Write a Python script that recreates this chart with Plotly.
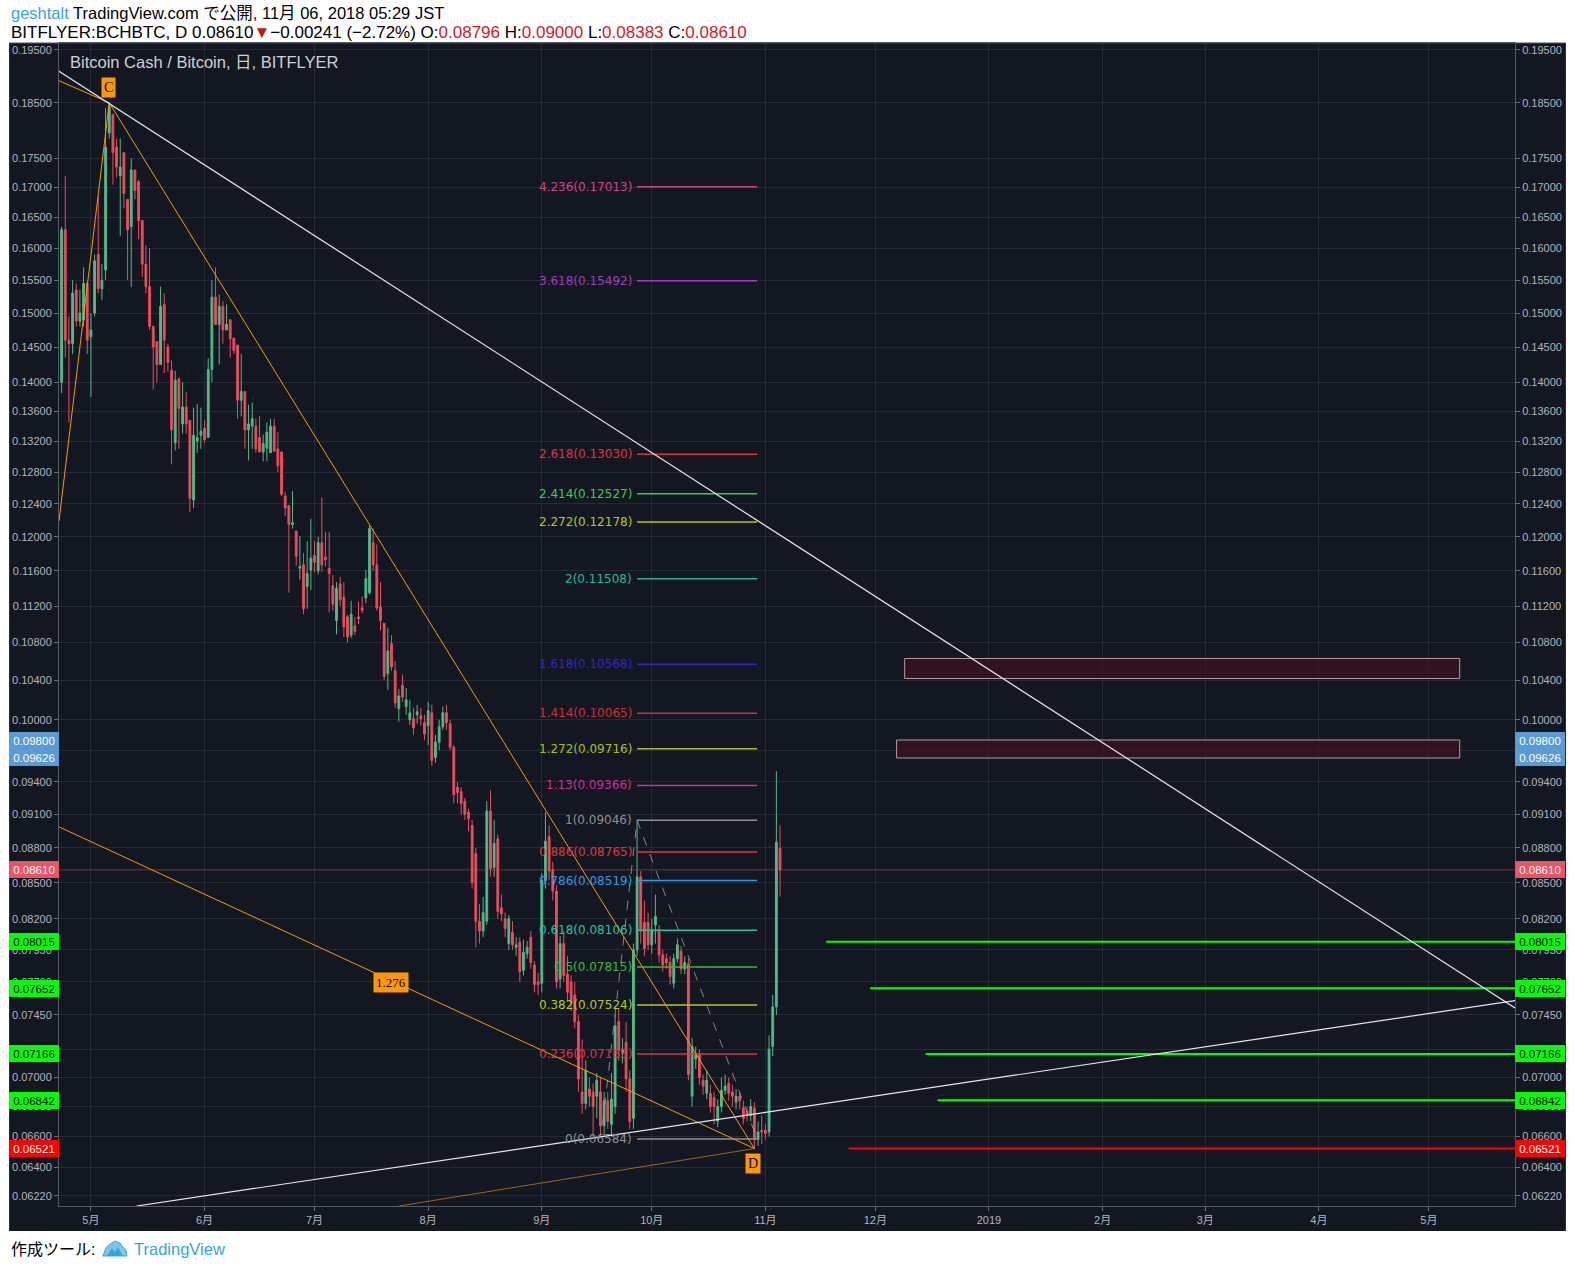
import math
import pandas as pd
import plotly.graph_objects as go

# ---------------- data ----------------
candle_start = "2018-04-23"

opens = [
    0.1400, 0.1630, 0.1460, 0.1455, 0.1535, 0.1488, 0.1490, 0.1545, 0.1465, 0.1500,
    0.1590, 0.1537, 0.1566, 0.1795, 0.1828, 0.1770, 0.1720, 0.1760, 0.1680, 0.1635,
    0.1730, 0.1710, 0.1645, 0.1575, 0.1540, 0.1480, 0.1458, 0.1425, 0.1513, 0.1450,
    0.1417, 0.1318, 0.1405, 0.1343, 0.1366, 0.1348, 0.1245, 0.1320, 0.1328, 0.1337,
    0.1325, 0.1418, 0.1524, 0.1483, 0.1510, 0.1475, 0.1490, 0.1463, 0.1453, 0.1375,
    0.1387, 0.1335, 0.1340, 0.1340, 0.1325, 0.1306, 0.1311, 0.1305, 0.1340, 0.1310,
    0.1306, 0.1250, 0.1238, 0.1215, 0.1207, 0.1163, 0.1167, 0.1142, 0.1161, 0.1178,
    0.1160, 0.1193, 0.1176, 0.1163, 0.1143, 0.1104, 0.1145, 0.1130, 0.1108, 0.1088,
    0.1098, 0.1108, 0.1118, 0.1129, 0.1135, 0.1193, 0.1167, 0.1119, 0.1101, 0.1047,
    0.1079, 0.1050, 0.1011, 0.1035, 0.1013, 0.1000, 0.1001, 0.1005, 0.1004, 0.0997,
    0.0994, 0.1007, 0.0963, 0.0978, 0.0993, 0.1007, 0.0996, 0.0973, 0.0935, 0.0931,
    0.0922, 0.0912, 0.0900, 0.0875, 0.0818, 0.0810, 0.0818, 0.0913, 0.0863, 0.0888,
    0.0829, 0.0820, 0.0800, 0.0809, 0.0797, 0.0801, 0.0779, 0.0792, 0.0805, 0.0783,
    0.0770, 0.0769, 0.0852, 0.0890, 0.0861, 0.0843, 0.0772, 0.0800, 0.0776, 0.0770,
    0.0760, 0.0740, 0.0690, 0.0682, 0.0692, 0.0690, 0.0687, 0.0690, 0.0667, 0.0684,
    0.0668, 0.0680, 0.0740, 0.0717, 0.0725, 0.0699, 0.0672, 0.0795, 0.0855, 0.0817,
    0.0817, 0.0799, 0.0815, 0.0811, 0.0791, 0.0788, 0.0785, 0.0769, 0.0788, 0.0794,
    0.0780, 0.0784, 0.0687, 0.0713, 0.0716, 0.0698, 0.0689, 0.0689, 0.0686, 0.0670,
    0.0680, 0.0691, 0.0696, 0.0690, 0.0683, 0.0687, 0.0679, 0.0677, 0.0674, 0.0679,
    0.0658, 0.0664, 0.0664, 0.0663, 0.0722, 0.0751, 0.08796,
]
highs = [
    0.1635, 0.1720, 0.1495, 0.1550, 0.1545, 0.1535, 0.1570, 0.1548, 0.1500, 0.1590,
    0.1685, 0.1575, 0.1840, 0.1850, 0.1830, 0.1785, 0.1785, 0.1760, 0.1680, 0.1750,
    0.1730, 0.1713, 0.1645, 0.1605, 0.1600, 0.1480, 0.1458, 0.1540, 0.1530, 0.1455,
    0.1431, 0.1416, 0.1405, 0.1400, 0.1386, 0.1348, 0.1365, 0.1370, 0.1365, 0.1348,
    0.1434, 0.1550, 0.1570, 0.1528, 0.1518, 0.1513, 0.1490, 0.1463, 0.1453, 0.1440,
    0.1388, 0.1369, 0.1372, 0.1350, 0.1354, 0.1329, 0.1345, 0.1350, 0.1350, 0.1332,
    0.1306, 0.1255, 0.1238, 0.1256, 0.1207, 0.1201, 0.1181, 0.1195, 0.1222, 0.1195,
    0.1200, 0.1248, 0.1206, 0.1206, 0.1155, 0.1147, 0.1153, 0.1147, 0.1110, 0.1126,
    0.1108, 0.1125, 0.1131, 0.1161, 0.1214, 0.1210, 0.1191, 0.1147, 0.1101, 0.1096,
    0.1088, 0.1060, 0.1031, 0.1046, 0.1032, 0.1020, 0.1012, 0.1015, 0.1012, 0.1005,
    0.1018, 0.1015, 0.0985, 0.1000, 0.1013, 0.1015, 0.1000, 0.0975, 0.0940, 0.0935,
    0.0925, 0.0915, 0.0905, 0.0880, 0.0832, 0.0838, 0.0922, 0.0932, 0.0905, 0.0892,
    0.0840, 0.0825, 0.0823, 0.0818, 0.0805, 0.0805, 0.0803, 0.0802, 0.0810, 0.0786,
    0.0777, 0.0858, 0.0912, 0.0900, 0.0868, 0.0848, 0.0806, 0.0810, 0.0790, 0.0775,
    0.0770, 0.0745, 0.0727, 0.0712, 0.0700, 0.0696, 0.0703, 0.0700, 0.0690, 0.0690,
    0.0703, 0.0745, 0.0750, 0.0728, 0.0740, 0.0705, 0.0800, 0.09046, 0.0860, 0.0835,
    0.0825, 0.0820, 0.0840, 0.0815, 0.0795, 0.0792, 0.0790, 0.0792, 0.0804, 0.0798,
    0.0790, 0.0788, 0.0728, 0.0722, 0.0720, 0.0702, 0.0705, 0.0695, 0.0690, 0.0685,
    0.0700, 0.0702, 0.0700, 0.0695, 0.0692, 0.0690, 0.0684, 0.0680, 0.0685, 0.0683,
    0.0670, 0.0674, 0.0668, 0.0730, 0.0760, 0.0950, 0.09000,
]
lows = [
    0.1385, 0.1435, 0.1345, 0.1440, 0.1480, 0.1480, 0.1480, 0.1440, 0.1380, 0.1495,
    0.1530, 0.1520, 0.1550, 0.1785, 0.1705, 0.1717, 0.1620, 0.1665, 0.1550, 0.1540,
    0.1680, 0.1615, 0.1555, 0.1530, 0.1475, 0.1390, 0.1400, 0.1425, 0.1413, 0.1415,
    0.1290, 0.1308, 0.1310, 0.1330, 0.1330, 0.1230, 0.1235, 0.1305, 0.1310, 0.1318,
    0.1325, 0.1400, 0.1483, 0.1425, 0.1455, 0.1475, 0.1435, 0.1440, 0.1350, 0.1353,
    0.1310, 0.1295, 0.1310, 0.1305, 0.1306, 0.1294, 0.1294, 0.1305, 0.1307, 0.1280,
    0.1250, 0.1225, 0.1135, 0.1210, 0.1166, 0.1150, 0.1111, 0.1117, 0.1138, 0.1158,
    0.1156, 0.1159, 0.1165, 0.1113, 0.1115, 0.1089, 0.1120, 0.1086, 0.1080, 0.1085,
    0.1088, 0.1100, 0.1112, 0.1123, 0.1133, 0.1160, 0.1115, 0.1093, 0.1040, 0.1030,
    0.1050, 0.1012, 0.0998, 0.1018, 0.1005, 0.0995, 0.0985, 0.0996, 0.0994, 0.0980,
    0.0975, 0.0955, 0.0958, 0.0970, 0.0990, 0.0990, 0.0970, 0.0920, 0.0920, 0.0910,
    0.0905, 0.0895, 0.0845, 0.0797, 0.0800, 0.0805, 0.0815, 0.0855, 0.0855, 0.0820,
    0.0818, 0.0805, 0.0795, 0.0795, 0.0790, 0.0770, 0.0775, 0.0788, 0.0780, 0.0762,
    0.0760, 0.0762, 0.0845, 0.0852, 0.0835, 0.0765, 0.0765, 0.0770, 0.0755, 0.0748,
    0.0735, 0.0690, 0.0675, 0.0678, 0.0680, 0.0660, 0.0672, 0.0660, 0.0660, 0.0665,
    0.0660, 0.0675, 0.0712, 0.0710, 0.0690, 0.0665, 0.0665, 0.0790, 0.0800, 0.0790,
    0.0795, 0.0792, 0.0800, 0.0785, 0.0778, 0.0780, 0.0768, 0.0765, 0.0785, 0.0776,
    0.0776, 0.0698, 0.0680, 0.0706, 0.0695, 0.0688, 0.0685, 0.0676, 0.0668, 0.0666,
    0.0676, 0.0688, 0.0684, 0.0680, 0.0678, 0.0678, 0.0668, 0.0670, 0.0670, 0.06521,
    0.0654, 0.0655, 0.0658, 0.0660, 0.0715, 0.0745, 0.08383,
]
closes = [
    0.1630, 0.1460, 0.1455, 0.1530, 0.1488, 0.1500, 0.1545, 0.1460, 0.1475, 0.1580,
    0.1537, 0.1550, 0.1770, 0.1843, 0.1760, 0.1735, 0.1735, 0.1690, 0.1630, 0.1730,
    0.1695, 0.1645, 0.1575, 0.1540, 0.1480, 0.1450, 0.1425, 0.1510, 0.1460, 0.1428,
    0.1335, 0.1403, 0.1364, 0.1366, 0.1343, 0.1247, 0.1328, 0.1325, 0.1333, 0.1322,
    0.1418, 0.1524, 0.1483, 0.1510, 0.1475, 0.1483, 0.1462, 0.1445, 0.1375, 0.1387,
    0.1335, 0.1343, 0.1350, 0.1310, 0.1306, 0.1317, 0.1332, 0.1340, 0.1307, 0.1288,
    0.1252, 0.1235, 0.1215, 0.1217, 0.1177, 0.1165, 0.1117, 0.1157, 0.1175, 0.1170,
    0.1193, 0.1167, 0.1173, 0.1157, 0.1122, 0.1140, 0.1127, 0.1097, 0.1086, 0.1111,
    0.1092, 0.1106, 0.1115, 0.1151, 0.1210, 0.1167, 0.1118, 0.1104, 0.1044, 0.1071,
    0.1054, 0.1017, 0.1024, 0.1023, 0.1020, 0.1007, 0.0992, 0.1008, 0.1001, 0.0986,
    0.1009, 0.0960, 0.0978, 0.0993, 0.1007, 0.0997, 0.0973, 0.0928, 0.0930, 0.0920,
    0.0910, 0.0906, 0.0850, 0.0818, 0.0810, 0.0825, 0.0913, 0.0862, 0.0884, 0.0826,
    0.0824, 0.0812, 0.0820, 0.0799, 0.0799, 0.0778, 0.0793, 0.0797, 0.0785, 0.0768,
    0.0768, 0.0852, 0.0886, 0.0860, 0.0843, 0.0770, 0.0800, 0.0775, 0.0762, 0.0754,
    0.0740, 0.0699, 0.0682, 0.0705, 0.0687, 0.0680, 0.0698, 0.0667, 0.0684, 0.0670,
    0.0685, 0.0737, 0.0719, 0.0720, 0.0699, 0.0670, 0.0795, 0.0855, 0.0810, 0.0796,
    0.0799, 0.0811, 0.0822, 0.0791, 0.0783, 0.0785, 0.0774, 0.0788, 0.0799, 0.0780,
    0.0785, 0.0702, 0.0722, 0.0716, 0.0700, 0.0694, 0.0698, 0.0680, 0.0680, 0.0680,
    0.0691, 0.0694, 0.0689, 0.0687, 0.0687, 0.0684, 0.0672, 0.0674, 0.0680, 0.06584,
    0.0663, 0.0663, 0.0662, 0.0720, 0.0751, 0.08851, 0.08610,
]

y_tick_values = [0.195, 0.185, 0.175, 0.170, 0.165, 0.160, 0.155, 0.150, 0.145, 0.140,
                 0.136, 0.132, 0.128, 0.124, 0.120, 0.116, 0.112, 0.108, 0.104, 0.100,
                 0.097, 0.094, 0.091, 0.088, 0.085, 0.082, 0.0795, 0.077, 0.0745, 0.072,
                 0.070, 0.068, 0.066, 0.064, 0.0622]
# ticks whose labels are fully covered by price tags in the reference
covered_ticks = [0.097, 0.072]
month_tick_dates = ["2018-05-01", "2018-06-01", "2018-07-01", "2018-08-01", "2018-09-01",
                    "2018-10-01", "2018-11-01", "2018-12-01", "2019-01-01", "2019-02-01",
                    "2019-03-01", "2019-04-01", "2019-05-01"]
month_tick_labels = ["5月", "6月", "7月", "8月", "9月", "10月", "11月", "12月", "2019",
                     "2月", "3月", "4月", "5月"]
x_view = ["2018-04-22 07:00", "2019-05-24 12:00"]
y_view = [0.061581, 0.19635]

# Fibonacci levels (ratio text, price, colour)
fib_ratios = ["4.236", "3.618", "2.618", "2.414", "2.272", "2", "1.618", "1.414", "1.272",
              "1.13", "1", "0.886", "0.786", "0.618", "0.5", "0.382", "0.236", "0"]
fib_prices = [0.17013, 0.15492, 0.13030, 0.12527, 0.12178, 0.11508, 0.10568, 0.10065, 0.09716,
              0.09366, 0.09046, 0.08765, 0.08519, 0.08106, 0.07815, 0.07524, 0.07165, 0.06584]
fib_colors = ["#d8408a", "#a23ac4", "#e0343c", "#2fd34a", "#b8c61c", "#2bb596", "#2a2ad0",
              "#d32f2f", "#a7bf26", "#d02c9c", "#8e9096", "#e0343c", "#2e9ae6", "#26c3a0",
              "#3cba3c", "#b5c81e", "#e0343c", "#8e9096"]
fib_span = ["2018-09-27 00:00", "2018-10-29 18:00"]
fib_trend_dates = ["2018-09-17 14:00", "2018-09-27 00:00", "2018-10-29 18:00"]
fib_trend_prices = [0.0668, 0.09046, 0.06584]

# Horizontal levels (price, start date, colour)
level_prices = [0.08015, 0.07652, 0.07166, 0.06842, 0.06521]
level_starts = ["2018-11-17 14:00", "2018-11-29 14:00", "2018-12-14 17:00", "2018-12-18 00:00",
                "2018-11-23 17:00"]
level_colors = ["#00ff00", "#00ff00", "#00ff00", "#00ff00", "#ff0000"]

# Zones (rectangles)
zone_x = [["2018-12-09 00:00", "2019-05-09 10:00"], ["2018-12-06 19:00", "2019-05-09 10:00"]]
zone_y = [[0.1042, 0.1063], [0.09626, 0.09800]]

# Trend lines (white) and harmonic legs (orange)
white_lines = [
    (["2018-04-22 07:00", "2019-05-24 12:00"], [0.1909, 0.07502]),
    (["2018-05-13 11:00", "2019-05-24 12:00"], [0.061581, 0.07557]),
]
orange_lines = [
    (["2018-04-22 07:00", "2018-05-06"], [0.1219, 0.185]),
    (["2018-04-22 07:00", "2018-05-06"], [0.1891, 0.185]),
    (["2018-05-06", "2018-10-29"], [0.185, 0.06521]),
    (["2018-04-22 07:00", "2018-10-29"], [0.08987, 0.06521]),
]
faint_orange_line = (["2018-07-24 02:00", "2018-10-29"], [0.061581, 0.06521])
ratio_label = ("1.276", "2018-07-21 18:00", 0.07698)

# Axis price labels (price, bg colour, text colour)
axis_labels = [(0.09800, "#5b9bd5", "#ffffff"), (0.09626, "#5b9bd5", "#ffffff"),
               (0.08610, "#ea5464", "#ffffff"), (0.08015, "#00ff00", "#000000"),
               (0.07652, "#00ff00", "#000000"), (0.07166, "#00ff00", "#000000"),
               (0.06842, "#00ff00", "#000000"), (0.06521, "#ff0000", "#ffffff")]
last_price = 0.08610

# ---------------- layout helpers ----------------
W, H = 1574, 1269
L_PX, R_PX, T_PX, B_PX = 57, 1516, 43, 1206


def px_x(px):
    return (px - L_PX) / (R_PX - L_PX)


def px_y(py):
    return (B_PX - py) / (B_PX - T_PX)


BG = "#131722"
GRID = "#262a35"
AXIS_TXT = "#b2b5be"
SANS = "Liberation Sans, Noto Sans CJK JP, sans-serif"

dates = pd.date_range(candle_start, periods=len(closes), freq="D")

fig = go.Figure()

fig.add_trace(go.Candlestick(
    x=dates, open=opens, high=highs, low=lows, close=closes,
    increasing=dict(line=dict(color="#53b987", width=1), fillcolor="#53b987"),
    decreasing=dict(line=dict(color="#eb4d5c", width=1), fillcolor="#eb4d5c"),
    hoverinfo="skip", showlegend=False))

# last price line
fig.add_trace(go.Scatter(x=x_view, y=[last_price, last_price], mode="lines",
                         line=dict(color="rgba(234,84,100,0.45)", width=1),
                         hoverinfo="skip", showlegend=False))

# zones
for zx, zy in zip(zone_x, zone_y):
    fig.add_trace(go.Scatter(
        x=[zx[0], zx[1], zx[1], zx[0], zx[0]], y=[zy[0], zy[0], zy[1], zy[1], zy[0]],
        mode="lines", fill="toself", fillcolor="rgba(62,18,32,0.7)",
        line=dict(color="#b79aa2", width=1), hoverinfo="skip", showlegend=False))

# horizontal levels
for p, s, c in zip(level_prices, level_starts, level_colors):
    fig.add_trace(go.Scatter(x=[s, x_view[1]], y=[p, p], mode="lines",
                             line=dict(color=c, width=2), hoverinfo="skip", showlegend=False))

# fib levels
for p, c in zip(fib_prices, fib_colors):
    fig.add_trace(go.Scatter(x=fib_span, y=[p, p], mode="lines",
                             line=dict(color=c, width=1.5), hoverinfo="skip", showlegend=False))
fig.add_trace(go.Scatter(x=fib_trend_dates, y=fib_trend_prices, mode="lines",
                         line=dict(color="rgba(150,152,160,0.85)", width=1, dash="dash"),
                         hoverinfo="skip", showlegend=False))

# orange legs
for xs, ys in orange_lines:
    fig.add_trace(go.Scatter(x=xs, y=ys, mode="lines", line=dict(color="#ff9800", width=1),
                             hoverinfo="skip", showlegend=False))
fig.add_trace(go.Scatter(x=faint_orange_line[0], y=faint_orange_line[1], mode="lines",
                         line=dict(color="rgba(200,125,20,0.75)", width=1),
                         hoverinfo="skip", showlegend=False))

# white trend lines
for xs, ys in white_lines:
    fig.add_trace(go.Scatter(x=xs, y=ys, mode="lines", line=dict(color="#e6e8ee", width=1.2),
                             hoverinfo="skip", showlegend=False))

# invisible trace for right axis
fig.add_trace(go.Scatter(x=[dates[0]], y=[closes[0]], yaxis="y2", mode="markers",
                         marker=dict(opacity=0), hoverinfo="skip", showlegend=False))

annotations = []

# fib labels
for r, p, c in zip(fib_ratios, fib_prices, fib_colors):
    annotations.append(dict(x=fib_span[0], y=math.log10(p), xref="x", yref="y",
                            text=f"{r}({p:.5f})", showarrow=False, xanchor="right",
                            yanchor="middle", xshift=-3,
                            font=dict(family="DejaVu Sans, sans-serif", size=12, color=c)))

# C and D labels at extremes
i_hi = max(range(len(highs)), key=lambda i: highs[i])
i_lo = min(range(len(lows)), key=lambda i: lows[i])
for txt, idx, val, shift in [("C", i_hi, highs[i_hi], 15), ("D", i_lo, lows[i_lo], -15)]:
    annotations.append(dict(x=dates[idx], y=math.log10(val), xref="x", yref="y", text=txt,
                            showarrow=False, yshift=shift, xshift=-1, bgcolor="#ff9800",
                            borderpad=2,
                            font=dict(family="Liberation Serif, serif", size=14, color="#000000")))
annotations.append(dict(x=ratio_label[1], y=math.log10(ratio_label[2]), xref="x", yref="y",
                        text=ratio_label[0], showarrow=False, bgcolor="#ff9800", borderpad=2,
                        font=dict(family="Liberation Serif, serif", size=13, color="#000000")))

# axis price labels (both sides)
for p, bg, fg in axis_labels:
    for xpos, anchor in [(0, "right"), (1, "left")]:
        annotations.append(dict(x=xpos, y=math.log10(p), xref="paper", yref="y",
                                text=f"{p:.5f}", showarrow=False, xanchor=anchor,
                                yanchor="middle", width=46, height=13, borderpad=2,
                                borderwidth=0, bgcolor=bg, align="center",
                                font=dict(family=SANS, size=11.5, color=fg)))

# chart title in the pane
annotations.append(dict(x=px_x(66), y=px_y(62), xref="paper", yref="paper",
                        text="Bitcoin Cash / Bitcoin, 日, BITFLYER", showarrow=False,
                        xanchor="left", yanchor="middle",
                        font=dict(family=SANS, size=16.5, color="#cdd0d8")))

# header
annotations.append(dict(
    x=px_x(7), y=px_y(13.5), xref="paper", yref="paper", xanchor="left", yanchor="middle",
    showarrow=False,
    text="<span style='color:#3ba4dc'>geshtalt</span> TradingView.com で公開, 11月 06, 2018 05:29 JST",
    font=dict(family=SANS, size=16.5, color="#000000")))
red = "#d0202a"
annotations.append(dict(
    x=px_x(7), y=px_y(32), xref="paper", yref="paper", xanchor="left", yanchor="middle",
    showarrow=False,
    text=("BITFLYER:BCHBTC, D 0.08610<span style='color:#b71c1c'>▼</span>−0.00241 (−2.72%) "
          f"O:<span style='color:{red}'>0.08796</span> H:<span style='color:{red}'>0.09000</span> "
          f"L:<span style='color:{red}'>0.08383</span> C:<span style='color:{red}'>0.08610</span>"),
    font=dict(family=SANS, size=17, color="#000000")))

# footer
annotations.append(dict(x=px_x(7), y=px_y(1249), xref="paper", yref="paper", xanchor="left",
                        yanchor="middle", showarrow=False, text="作成ツール:",
                        font=dict(family=SANS, size=16, color="#000000")))
annotations.append(dict(x=px_x(130), y=px_y(1249), xref="paper", yref="paper", xanchor="left",
                        yanchor="middle", showarrow=False, text="TradingView",
                        font=dict(family=SANS, size=16.5, color="#3ba4dc")))

shapes = [
    dict(type="rect", xref="paper", yref="paper", x0=px_x(7), x1=px_x(1567), y0=px_y(1231),
         y1=px_y(43), fillcolor=BG, line=dict(width=0), layer="below"),
    dict(type="line", xref="paper", yref="paper", x0=px_x(7), x1=px_x(1567), y0=px_y(43),
         y1=px_y(43), line=dict(color="#4c505b", width=1)),
]
# TradingView logo (simple cloud/mountain glyph)
logo_pts = [(101, 1256), (104, 1248), (108, 1244), (113, 1241), (118, 1243), (121, 1247),
            (124, 1250), (125, 1256)]
path = "M " + " L ".join(f"{px_x(a):.5f},{px_y(b):.5f}" for a, b in logo_pts) + " Z"
shapes.append(dict(type="path", xref="paper", yref="paper", path=path,
                   fillcolor="#7cc8ec", line=dict(color="#3ba4dc", width=1)))
m_pts = [(105, 1256), (110, 1248), (113, 1252), (116, 1247), (121, 1256)]
path2 = "M " + " L ".join(f"{px_x(a):.5f},{px_y(b):.5f}" for a, b in m_pts) + " Z"
shapes.append(dict(type="path", xref="paper", yref="paper", path=path2,
                   fillcolor="#3ba4dc", line=dict(width=0)))

tick_text = ["" if v in covered_ticks else f"{v:.5f}" for v in y_tick_values]
yaxis_common = dict(type="log", range=[math.log10(y_view[0]), math.log10(y_view[1])],
                    tickvals=y_tick_values, ticktext=tick_text, ticks="outside", ticklen=4,
                    tickcolor="#6b6f7a", tickfont=dict(family=SANS, size=11, color=AXIS_TXT),
                    showline=True, linecolor="#555965", linewidth=1, zeroline=False,
                    fixedrange=True)

fig.update_layout(
    width=W, height=H,
    margin=dict(l=L_PX, r=W - R_PX, t=T_PX, b=H - B_PX, pad=0),
    paper_bgcolor="#ffffff", plot_bgcolor=BG,
    showlegend=False, hovermode=False,
    xaxis=dict(type="date", range=x_view, tickvals=month_tick_dates, ticktext=month_tick_labels,
               ticks="outside", ticklen=4, tickcolor="#6b6f7a",
               tickfont=dict(family=SANS, size=11, color=AXIS_TXT),
               showgrid=True, gridcolor=GRID, gridwidth=1, showline=True, linecolor="#555965",
               mirror=True, rangeslider=dict(visible=False), zeroline=False, fixedrange=True),
    yaxis=dict(**yaxis_common, side="left", showgrid=True, gridcolor=GRID, gridwidth=1),
    yaxis2=dict(**yaxis_common, side="right", overlaying="y", showgrid=False),
    annotations=annotations, shapes=shapes,
)

fig.write_html("out.html")
